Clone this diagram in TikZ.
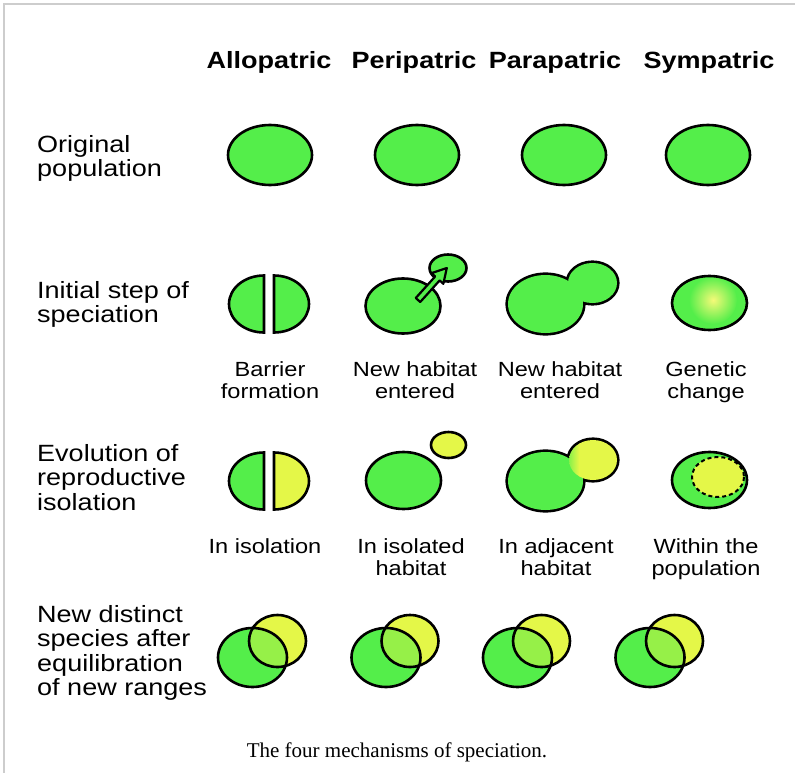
\documentclass[tikz,border=0pt]{standalone}
\usepackage{fontspec}
\newfontfamily\labelfont{Liberation Sans}[FakeStretch=1.15]
\newfontfamily\capfont{Liberation Serif}
\definecolor{popgreen}{RGB}{84,238,74}
\definecolor{popyellow}{RGB}{228,247,72}
\definecolor{mixgreen}{RGB}{150,240,72}
\definecolor{glow}{RGB}{245,250,120}
\definecolor{framegray}{RGB}{205,205,205}
\tikzset{
  outline/.style={draw=black, line width=2.6pt},
  header/.style={font={\labelfont\bfseries\fontsize{23.5}{26}\selectfont}, anchor=base, inner sep=0pt},
  rowlabel/.style={font={\labelfont\fontsize{23.5}{24.5}\selectfont}, anchor=base west, align=left, inner sep=0pt},
  steplabel/.style={font={\labelfont\fontsize{20.5}{22}\selectfont}, anchor=base, align=center, inner sep=0pt},
}
\begin{document}
\begin{tikzpicture}[x=1pt,y=-1pt]
\useasboundingbox (0,0) rectangle (795,773);
\fill[white] (0,0) rectangle (795,773);
% frame
\draw[framegray, line width=1.5pt] (4,773) -- (4,4) -- (795,4);

% column headers
\node[header] (hAllo) at (269,69) {Allopatric};
\node[header] (hPeri) at (414,69) {Peripatric};
\node[header] (hPara) at (555,69) {Parapatric};
\node[header] (hSym)  at (709,69) {Sympatric};

% row labels (anchored on the baseline of their last line)
\node[rowlabel] (rOrig) at (37,176.5) {Original\\population};
\node[rowlabel] (rInit) at (37,322.5) {Initial step of\\speciation};
\node[rowlabel] (rEvol) at (37,510) {Evolution of\\reproductive\\isolation};
\node[rowlabel] (rNew)  at (37,695.5) {New distinct\\species after\\equilibration\\of new ranges};

% row 1: original populations
\foreach \cx in {270,417,564,708}
  \path[fill=popgreen, outline] (\cx,155) ellipse[x radius=42, y radius=30];

% row 2: allopatric barrier
\path[fill=popgreen, outline] (264,332.5) arc[start angle=90, end angle=270, x radius=35, y radius=28.5] -- cycle;
\path[fill=popgreen, outline] (274,275.5) arc[start angle=-90, end angle=90, x radius=35, y radius=28.5] -- cycle;
% row 2: peripatric, habitat entered
\path[fill=popgreen, outline] (403,306) ellipse[x radius=37.5, y radius=27.5];
\path[fill=popgreen, outline] (448,268) ellipse[x radius=18.5, y radius=13.5];
\begin{scope}[shift={(418,300)}, rotate=48]
  \path[fill=popgreen, draw=black, line width=2.2pt, line join=round]
    (0,-3) -- (29,-3) -- (29,-8) -- (43,0) -- (29,8) -- (29,3) -- (0,3) -- cycle;
\end{scope}
% row 2: parapatric, joined outline
\draw[black, line width=5.2pt] (545.5,304) ellipse[x radius=37.5, y radius=29]
                               (592.5,283) ellipse[x radius=24.5, y radius=20];
\fill[popgreen] (545.5,304) ellipse[x radius=37.5, y radius=29]
                (592.5,283) ellipse[x radius=24.5, y radius=20];
% row 2: sympatric, genetic change
\begin{scope}
  \clip (709.5,303) ellipse[x radius=37.5, y radius=27];
  \fill[popgreen] (660,270) rectangle (760,340);
  \shade[inner color=glow, outer color=popgreen] (713,300) circle (24);
\end{scope}
\draw[outline] (709.5,303) ellipse[x radius=37.5, y radius=27];

% row 2 captions
\node[steplabel] (cBar) at (270,398) {Barrier\\formation};
\node[steplabel] (cNew1) at (415,398) {New habitat\\entered};
\node[steplabel] (cNew2) at (560,398) {New habitat\\entered};
\node[steplabel] (cGen) at (706,398) {Genetic\\change};

% row 3: allopatric isolation
\path[fill=popgreen, outline] (264,509.5) arc[start angle=90, end angle=270, x radius=35, y radius=28.5] -- cycle;
\path[fill=popyellow, outline] (274,452.5) arc[start angle=-90, end angle=90, x radius=35, y radius=28.5] -- cycle;
% row 3: peripatric isolated habitat
\path[fill=popgreen, outline] (403.5,480.5) ellipse[x radius=37.5, y radius=28.5];
\path[fill=popyellow, outline] (448.5,445) ellipse[x radius=17.5, y radius=13];
% row 3: parapatric adjacent habitat
\draw[black, line width=5.2pt] (545.5,481) ellipse[x radius=37.5, y radius=29]
                               (593,460) ellipse[x radius=24, y radius=20];
\fill[popgreen] (545.5,481) ellipse[x radius=37.5, y radius=29];
\begin{scope}
  \clip (593,460) ellipse[x radius=24, y radius=20];
  \shade[left color=popgreen, right color=popyellow] (563,430) rectangle (579,490);
  \fill[popyellow] (579,430) rectangle (625,490);
\end{scope}
% row 3: sympatric within the population
\path[fill=popgreen, outline] (709.5,480) ellipse[x radius=37.5, y radius=28];
\path[fill=popyellow, draw=black, line width=2pt, dash pattern=on 4pt off 3pt] (718,477) ellipse[x radius=26, y radius=20];

% row 3 captions
\node[steplabel] (cIso) at (265,553) {In isolation};
\node[steplabel] (cIsoH) at (411,575) {In isolated\\habitat};
\node[steplabel] (cAdj) at (556,575) {In adjacent\\habitat};
\node[steplabel] (cWith) at (706,575) {Within the\\population};

% row 4: overlapping new species
\foreach \g/\y in {252.5/277.5, 386/410, 517.5/541.5, 650/674.5} {
  \fill[popgreen] (\g,657.5) ellipse[x radius=34.5, y radius=29.5];
  \fill[popyellow] (\y,641) ellipse[x radius=28.5, y radius=26];
  \begin{scope}
    \clip (\g,657.5) ellipse[x radius=34.5, y radius=29.5];
    \fill[mixgreen] (\y,641) ellipse[x radius=28.5, y radius=26];
  \end{scope}
  \draw[outline] (\g,657.5) ellipse[x radius=34.5, y radius=29.5];
  \draw[outline] (\y,641) ellipse[x radius=28.5, y radius=26];
}

% caption
\node[font={\capfont\fontsize{21}{24}\selectfont}, anchor=base, inner sep=0pt] (caption) at (397,757) {The four mechanisms of speciation.};
\end{tikzpicture}
\end{document}
